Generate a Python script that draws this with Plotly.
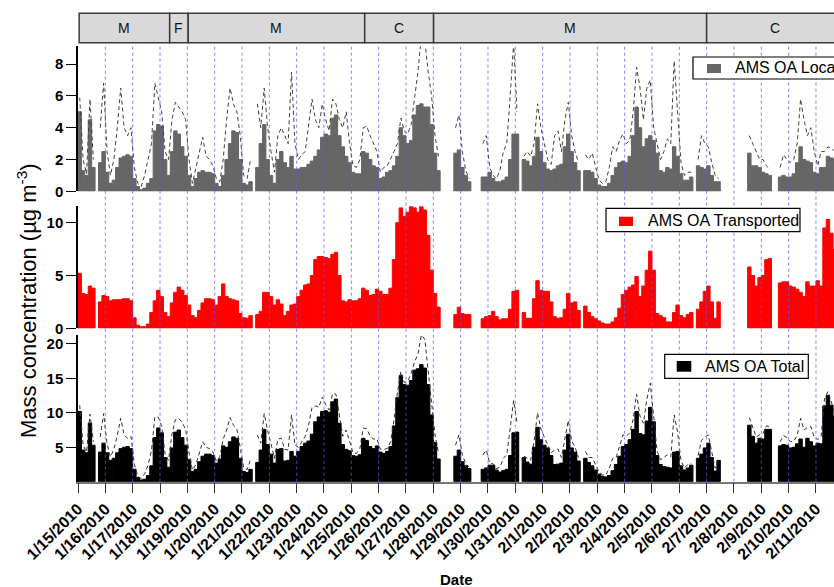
import pandas as pd
import plotly.graph_objects as go

# ---------------- data (3-hour bins from 2010-01-15 00:00) ----------------
oa_local = [
    5.0, 1.3, 1.0, 4.5, 1.5, None, 1.8, 2.5,
    1.2, 0.5, 0.7, 1.5, 2.1, 2.2, 2.3, 2.2,
    0.8, 0.3, 0.1, 0.2, 0.5, 0.8, 3.8, 4.2,
    4.1, 2.0, 1.0, 2.5, 3.8, 3.6, 2.8, 2.2,
    1.0, 0.3, 0.8, 1.2, 1.3, 1.2, 1.2, 1.1,
    0.5, 0.3, 1.0, 2.0, 3.0, 3.8, 3.7, 2.0,
    0.5, 0.4, 0.6, None, 1.5, 3.0, 4.2, 2.0,
    1.0, 0.5, 2.0, 2.5, 1.8, 1.5, 2.2, 1.4,
    1.4, 1.5, 1.5, 1.7, 1.9, 2.2, 2.6, 3.4,
    3.6, 3.5, 4.6, 4.8, 3.5, 2.8, 2.2, 1.8,
    1.2, 1.1, 1.1, 2.5, 2.4, 2.0, 1.6, 1.5,
    0.8, 0.9, 1.2, 1.3, 1.6, 2.2, 4.0, 3.5,
    3.0, 3.2, 4.8, 5.4, 5.5, 5.3, 5.3, 4.2,
    2.4, 1.3, None, None, None, None, 2.4, 2.6,
    1.5, 1.0, 0.6, None, None, None, 0.9, 0.9,
    1.2, 0.8, 0.6, 0.6, 0.7, 0.9, 2.0, 3.6,
    3.6, None, 2.0, 1.9, 1.6, 2.2, 3.4, 2.5,
    1.8, 1.4, 1.3, 1.4, 1.6, 1.7, 2.8, 3.6,
    2.5, 1.8, 1.3, None, 1.3, 1.3, 1.2, 0.8,
    0.4, 0.3, 0.3, 0.5, 1.0, 1.5, 1.8, 1.9,
    1.8, 2.2, 3.5, 5.3, 4.0, 2.8, 3.3, 3.5,
    3.2, 2.4, 1.3, 1.2, 1.5, 1.4, 2.8, 2.2,
    1.1, 0.7, 0.7, 0.9, None, 1.6, 1.5, 1.4,
    1.6, 1.0, 0.6, 0.6, None, None, None, None,
    None, None, None, None, 2.4, 1.6, 1.6, 1.5,
    1.2, 1.1, 1.0, None, None, 0.9, 1.0, 0.9,
    0.9, 1.1, 1.8, 2.8, 2.0, 1.9, 1.8, 1.2,
    1.1, 1.5, 1.5, 2.2, 2.1, 2.0,
]

oa_local_dashed = [
    5.9, 2.0, 1.1, 5.8, 2.0, None, 4.0, 6.8,
    2.5, 1.0, 2.0, 4.0, 6.5, 4.0, 3.5, 4.0,
    1.5, 0.5, 0.3, 1.0, 2.0, 3.0, 6.8, 5.8,
    5.0, 2.5, 2.0, 4.5, 5.6, 5.3, 5.0, 4.5,
    2.0, 0.5, 1.5, 2.5, 3.4, 2.2, 2.0, 1.6,
    0.8, 0.6, 2.0, 4.5, 6.5, 5.5, 5.0, 3.5,
    1.0, 0.8, 2.0, None, 5.5, 4.0, 6.5, 4.0,
    2.5, 1.2, 3.5, 4.0, 3.5, 3.0, 7.5, 3.0,
    2.0, 2.3, 2.5, 4.0, 5.8, 4.5, 4.0, 5.5,
    4.5, 3.8, 5.8, 5.5, 4.5, 4.0, 5.0, 3.0,
    1.6, 1.5, 2.0, 4.0, 4.1, 3.5, 3.0, 2.5,
    1.2, 1.5, 1.6, 2.0, 2.5, 3.0, 4.6, 3.8,
    3.6, 4.2, 6.0, 7.5, 9.8, 9.5, 7.5, 6.0,
    3.5, 2.2, None, None, None, None, 4.0, 4.8,
    2.5, 1.3, 0.8, None, None, None, 3.0, 3.5,
    1.5, 1.0, 0.8, 1.3, 2.5, 3.0, 6.0, 9.3,
    5.0, None, 2.2, 2.5, 2.2, 3.0, 5.5, 4.0,
    3.0, 2.0, 1.7, 3.5, 3.8, 2.5, 4.5, 5.6,
    3.5, 2.5, 1.8, None, 2.3, 2.0, 2.4, 1.5,
    0.7, 0.5, 0.6, 1.5, 2.8, 2.5, 3.2, 3.6,
    3.0, 3.2, 5.0, 7.8, 6.5, 4.5, 6.5, 7.0,
    4.0, 3.0, 2.0, 2.5, 3.3, 3.0, 8.2, 5.0,
    1.8, 1.0, 1.2, 1.2, None, 2.0, 3.5, 3.0,
    2.8, 1.8, 1.0, 0.8, None, None, None, None,
    None, None, None, None, 3.5, 3.0, 2.5, 2.0,
    2.0, 1.6, 1.4, None, None, 1.5, 2.3, 2.0,
    1.8, 2.0, 3.0, 5.8, 4.5, 3.5, 4.0, 2.5,
    1.6, 2.5, 2.5, 2.8, 2.7, 2.5,
]

oa_transported = [
    5.2, 3.3, 3.2, 4.0, 3.8, None, 2.5, 3.1,
    3.0, 2.6, 2.7, 2.7, 2.7, 2.8, 2.8, 2.6,
    1.0, 0.3, 0.15, 0.15, 0.4, 1.5, 2.6, 3.6,
    3.0, 1.5, 1.1, 2.4, 3.4, 3.9, 3.6, 3.1,
    2.2, 1.2, 1.0, 1.7, 2.4, 2.8, 2.8, 2.7,
    2.2, 3.0, 4.2, 3.0, 2.8, 2.7, 2.6, 1.4,
    1.0, 0.95, 1.2, None, 1.3, 1.6, 3.4, 3.4,
    3.0, 2.2, 2.7, 2.3, 1.2, 1.6, 2.2, 2.3,
    3.0, 3.6, 4.1, 4.2, 5.0, 6.5, 6.8, 6.8,
    6.7, 6.6, 7.0, 7.2, 5.0, 2.6, 2.5, 2.7,
    2.6, 2.6, 2.8, 3.8, 3.6, 3.1, 3.2, 3.7,
    3.5, 3.2, 3.2, 3.8, 6.5, 10.0, 11.4, 10.6,
    11.0, 11.5, 11.4, 11.0, 11.5, 11.2, 8.8, 5.5,
    3.3, 2.0, None, None, None, None, 1.3, 2.0,
    1.4, 1.3, 1.3, None, None, None, 0.9, 1.1,
    1.2, 1.6, 1.1, 0.8, 0.9, 0.9, 1.8, 3.5,
    3.6, None, 1.5, 0.95, 0.95, 2.8, 4.5, 3.6,
    3.5, 3.5, 2.5, 1.1, 0.95, 1.0, 1.8, 3.3,
    2.4, 2.5, 1.7, None, 2.1, 1.5, 1.1, 0.9,
    0.7, 0.5, 0.4, 0.4, 0.6, 1.0, 1.9, 3.2,
    3.6, 3.9, 4.1, 4.9, 3.0, 4.0, 5.5, 7.3,
    5.5, 1.4, 1.2, 1.0, 0.6, 0.6, 1.5, 2.2,
    1.2, 1.0, 1.3, 1.5, None, 1.8, 2.5, 3.5,
    4.0, 2.5, 0.95, 2.5, None, None, None, None,
    None, None, None, None, 5.8, 5.0, 4.0, 4.8,
    5.0, 6.5, 6.6, None, None, 4.3, 4.4, 4.4,
    4.0, 3.9, 3.7, 3.4, 3.0, 4.4, 4.0, 4.0,
    4.5, 4.0, 9.5, 10.3, 9.0, 7.5,
]

oa_total = [
    10.2, 4.6, 4.2, 8.5, 5.3, None, 4.3, 5.6,
    4.2, 3.1, 3.4, 4.2, 4.8, 5.0, 5.1, 4.8,
    1.8, 0.6, 0.25, 0.35, 0.9, 2.3, 6.4, 7.8,
    7.1, 3.5, 2.1, 4.9, 7.2, 7.5, 6.4, 5.3,
    3.2, 1.5, 1.8, 2.9, 3.7, 4.0, 4.0, 3.8,
    2.7, 3.3, 5.2, 5.0, 5.8, 6.5, 6.3, 3.4,
    1.5, 1.35, 1.8, None, 2.8, 4.6, 7.6, 5.4,
    4.0, 2.7, 4.7, 4.8, 3.0, 3.1, 4.4, 3.7,
    4.4, 5.1, 5.6, 5.9, 6.9, 8.7, 9.4, 10.2,
    10.3, 10.1, 11.6, 12.0, 8.5, 5.4, 4.7, 4.5,
    3.8, 3.7, 3.9, 6.3, 6.0, 5.1, 4.8, 5.2,
    4.3, 4.1, 4.4, 5.1, 8.1, 12.2, 15.4, 14.1,
    14.0, 14.7, 16.2, 16.4, 17.0, 16.5, 14.1, 9.7,
    5.7, 3.3, None, None, None, None, 3.7, 4.6,
    2.9, 2.3, 1.9, None, None, None, 1.8, 2.0,
    2.4, 2.4, 1.7, 1.4, 1.6, 1.8, 3.8, 7.1,
    7.2, None, 3.5, 2.85, 2.55, 5.0, 7.9, 6.1,
    5.3, 4.9, 3.8, 2.5, 2.55, 2.7, 4.6, 6.9,
    4.9, 4.3, 3.0, None, 3.4, 2.8, 2.3, 1.7,
    1.1, 0.8, 0.7, 0.9, 1.6, 2.5, 3.7, 5.1,
    5.4, 6.1, 7.6, 10.2, 7.0, 6.8, 8.8, 10.8,
    8.7, 3.8, 2.5, 2.2, 2.1, 2.0, 4.3, 4.4,
    2.3, 1.7, 2.0, 2.4, None, 3.4, 4.0, 4.9,
    5.6, 3.5, 1.55, 3.1, None, None, None, None,
    None, None, None, None, 8.2, 6.6, 5.6, 6.3,
    6.2, 7.6, 7.6, None, None, 5.2, 5.4, 5.3,
    4.9, 5.0, 5.5, 6.2, 5.0, 6.3, 5.8, 5.2,
    5.6, 5.5, 11.0, 12.5, 11.1, 9.5,
]

oa_total_dashed = [
    11.1, 5.3, 4.3, 9.8, 5.8, None, 6.5, 9.9,
    5.5, 3.6, 4.7, 6.7, 9.2, 6.8, 6.3, 6.6,
    2.5, 0.8, 0.45, 1.15, 2.4, 4.5, 9.4, 9.4,
    8.0, 4.0, 3.1, 6.9, 9.0, 9.2, 8.6, 7.6,
    4.2, 1.7, 2.5, 4.2, 5.8, 5.0, 4.8, 4.3,
    3.0, 3.6, 6.2, 7.5, 9.3, 8.2, 7.6, 4.9,
    2.0, 1.75, 3.2, None, 6.8, 5.6, 9.9, 7.4,
    5.5, 3.4, 6.2, 6.3, 4.7, 4.6, 9.7, 5.3,
    5.0, 5.9, 6.6, 8.2, 10.8, 11.0, 10.8, 12.3,
    11.2, 10.4, 12.8, 12.7, 9.5, 6.6, 7.5, 5.7,
    4.2, 4.1, 4.8, 7.8, 7.7, 6.6, 6.2, 6.2,
    4.7, 4.7, 4.8, 5.8, 9.0, 13.0, 16.0, 14.4,
    14.6, 15.7, 17.4, 18.5, 21.3, 20.7, 16.3, 11.5,
    6.8, 4.2, None, None, None, None, 5.3, 6.8,
    3.9, 2.6, 2.1, None, None, None, 3.9, 4.6,
    2.7, 2.6, 1.9, 2.1, 3.4, 3.9, 7.8, 11.8,
    8.6, None, 3.7, 3.45, 3.15, 5.8, 10.0, 7.6,
    6.5, 5.5, 4.2, 4.6, 4.75, 3.5, 6.3, 8.9,
    5.9, 5.0, 3.5, None, 4.4, 3.5, 3.5, 2.4,
    1.4, 1.0, 1.0, 1.9, 3.4, 3.5, 5.1, 6.8,
    6.6, 7.1, 9.1, 12.7, 9.5, 8.5, 12.0, 14.3,
    9.5, 4.4, 3.2, 3.5, 3.9, 3.6, 9.7, 7.2,
    3.0, 2.0, 2.5, 2.7, None, 3.8, 6.0, 6.5,
    6.8, 4.3, 1.95, 3.3, None, None, None, None,
    None, None, None, None, 9.3, 8.0, 6.5, 6.8,
    7.0, 8.1, 8.0, None, None, 5.8, 6.7, 6.4,
    5.8, 5.9, 6.7, 9.2, 7.5, 7.9, 8.0, 6.5,
    6.1, 6.5, 12.0, 13.1, 11.7, 10.0,
]

band_labels = ["M", "F", "M", "C", "M", "C"]
band_starts = ["2010-01-15 01:00", "2010-01-18 08:30", "2010-01-19 00:45",
               "2010-01-25 11:45", "2010-01-28 00:15", "2010-02-07 00:00"]
band_ends = band_starts[1:] + ["2010-02-12 00:30"]

legend_names = ["AMS OA Local", "AMS OA Transported", "AMS OA Total"]

n = len(oa_local)
for arr in (oa_local_dashed, oa_transported, oa_total, oa_total_dashed):
    assert len(arr) == n, len(arr)

# ---------------- geometry helpers ----------------
W, H = 834, 587
LM = 78
FONT = "Liberation Sans, Arial, sans-serif"


def px(xp):
    return (xp - LM) / (W - LM)


def py(yp):
    return 1 - yp / H


t = pd.date_range("2010-01-15 01:30", periods=n, freq="3h")
BIN_MS = 3 * 3600 * 1000
x_range = ["2010-01-15 00:00", "2010-02-11 15:50"]

fig = go.Figure()


def fill_bars(y, color, xa, ya, name):
    return go.Bar(x=t, y=y, width=BIN_MS, marker=dict(color=color, line=dict(color=color, width=1)),
                  xaxis=xa, yaxis=ya, showlegend=False, name=name)


# top panel: local
fig.add_trace(fill_bars(oa_local, "#666666", "x3", "y3", legend_names[0]))
fig.add_trace(go.Scatter(x=t, y=oa_local_dashed, mode="lines", connectgaps=False,
                         line=dict(color="#404040", width=1, dash="4px,3px"),
                         xaxis="x3", yaxis="y3", showlegend=False))
# middle panel: transported
fig.add_trace(fill_bars(oa_transported, "#ff0000", "x2", "y2", legend_names[1]))
# bottom panel: total
fig.add_trace(fill_bars(oa_total, "#000000", "x", "y", legend_names[2]))
fig.add_trace(go.Scatter(x=t, y=oa_total_dashed, mode="lines", connectgaps=False,
                         line=dict(color="#303030", width=1, dash="4px,3px"),
                         xaxis="x", yaxis="y", showlegend=False))

yax_common = dict(showline=True, linecolor="black", linewidth=1.5, ticks="outside", ticklen=10,
                  tickwidth=1, tickcolor="black", showgrid=False, zeroline=False,
                  tickfont=dict(family=FONT, size=15, color="black", weight="bold"))

fig.update_layout(
    width=W, height=H,
    margin=dict(l=LM, r=0, t=0, b=0, autoexpand=False),
    paper_bgcolor="white", plot_bgcolor="white",
    barmode="overlay",
    xaxis=dict(domain=[0, 1], anchor="y", type="date", range=x_range,
               tick0="2010-01-15", dtick=86400000, tickformat="%-m/%-d/%Y",
               tickangle=-45, ticks="outside", ticklen=10, tickcolor="#333333", tickwidth=1,
               showline=True, linecolor="#777777", linewidth=1.5, showgrid=False, zeroline=False,
               tickfont=dict(family=FONT, size=16, color="black", weight="bold")),
    xaxis2=dict(domain=[0, 1], anchor="y2", matches="x", type="date", range=x_range,
                showticklabels=False, ticks="", showline=False, showgrid=False, zeroline=False),
    xaxis3=dict(domain=[0, 1], anchor="y3", matches="x", type="date", range=x_range,
                showticklabels=False, ticks="", showline=False, showgrid=False, zeroline=False),
    yaxis=dict(domain=[py(481.7), py(335)], range=[0, 21.3], tickvals=[5, 10, 15, 20], **yax_common),
    yaxis2=dict(domain=[py(328.3), py(206)], range=[0, 11.58], tickvals=[0, 5, 10], **yax_common),
    yaxis3=dict(domain=[py(191.3), py(46.3)], range=[0, 9.12], tickvals=[0, 2, 4, 6, 8], **yax_common),
)

shapes = []
# daily dotted grid lines drawn across the three panels
for d in pd.date_range("2010-01-16", "2010-02-11", freq="D"):
    shapes.append(dict(type="line", xref="x", yref="paper", x0=d, x1=d, y0=py(481.7), y1=py(46),
                       line=dict(color="rgba(90,90,255,0.75)", width=1, dash="dot"), layer="above"))

# top category band
annotations = []
for lab, s, e in zip(band_labels, band_starts, band_ends):
    shapes.append(dict(type="rect", xref="x", yref="paper", x0=s, x1=e, y0=py(42.7), y1=py(13.3),
                       fillcolor="#d9d9d9", line=dict(color="#3a3a3a", width=1.5), layer="above"))
    mid = pd.Timestamp(s) + (pd.Timestamp(e) - pd.Timestamp(s)) / 2
    annotations.append(dict(xref="x", yref="paper", x=mid, y=py(28), text=lab, showarrow=False,
                            xanchor="center", yanchor="middle",
                            font=dict(family=FONT, size=14, color="#111111")))

# legends (box, swatch, text) per panel
legend_specs = [
    ((693, 880, 57, 79), (707, 721, 64, 73), (733, 68), "#666666"),
    ((606, 800, 208.3, 231.7), (619, 633, 216.7, 226), (645.5, 220), "#ff0000"),
    ((664.7, 808.3, 354.3, 378.3), (676.7, 691.3, 361, 371.7), (703, 366), "#000000"),
]
for name, (box, sw, txt, col) in zip(legend_names, legend_specs):
    shapes.append(dict(type="rect", xref="paper", yref="paper", x0=px(box[0]), x1=px(box[1]),
                       y0=py(box[3]), y1=py(box[2]), fillcolor="white",
                       line=dict(color="black", width=1.2), layer="above"))
    shapes.append(dict(type="rect", xref="paper", yref="paper", x0=px(sw[0]), x1=px(sw[1]),
                       y0=py(sw[3]), y1=py(sw[2]), fillcolor=col, line=dict(width=0), layer="above"))
    annotations.append(dict(xref="paper", yref="paper", x=px(txt[0]), y=py(txt[1]), text=name,
                            showarrow=False, xanchor="left", yanchor="middle",
                            font=dict(family=FONT, size=16, color="black")))

# axis titles
annotations.append(dict(xref="paper", yref="paper", x=px(27), y=py(301),
                        text="Mass concentration (µg m<sup>-3</sup>)", textangle=-90, showarrow=False,
                        xanchor="center", yanchor="middle", font=dict(family=FONT, size=22, color="black")))
annotations.append(dict(xref="paper", yref="paper", x=px(457), y=py(579), text="Date", showarrow=False,
                        xanchor="center", yanchor="middle",
                        font=dict(family=FONT, size=15, color="black", weight="bold")))

fig.update_layout(shapes=shapes, annotations=annotations)

fig.write_html("out.html", config={"displayModeBar": False},
               post_script="document.body.style.margin='0';document.body.style.overflow='hidden';")
